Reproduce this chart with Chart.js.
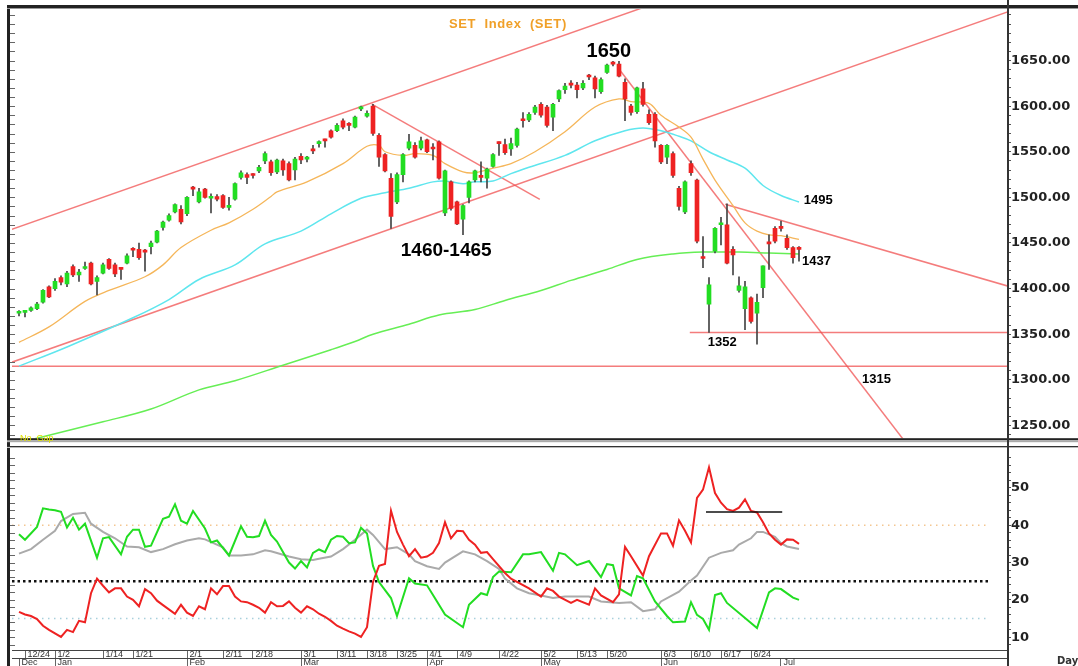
<!DOCTYPE html>
<html>
<head>
<meta charset="utf-8">
<title>SET Index (SET)</title>
<script src="https://cdn.jsdelivr.net/npm/chart.js@4.4.1/dist/chart.umd.min.js"></script>
<style>
  html, body { margin: 0; padding: 0; background: #fff; }
  #wrap { position: relative; width: 1078px; height: 666px; overflow: hidden; background: #fff; }
  #priceChart { position: absolute; left: 0; top: 0; }
  #dmiChart { position: absolute; left: 0; top: 446px; }
  .lbl { position: absolute; white-space: pre; line-height: 1; }
  #title { left: 449px; top: 16px; color: #f0a028; font: bold 13px "Liberation Sans", Arial, sans-serif; letter-spacing: 0.6px; }
  #nogap { left: 20px; top: 433px; color: #e0e000; font: 9px "Liberation Sans", Arial, sans-serif; }
  #day { left: 1057px; top: 655px; color: #333; font: bold 10px "DejaVu Sans", sans-serif; }
</style>
</head>
<body>
<div id="wrap">
  <canvas id="priceChart" width="1078" height="446"></canvas>
  <canvas id="dmiChart" width="1078" height="220"></canvas>
  <div class="lbl" id="title">SET  Index  (SET)</div>
  <div class="lbl" id="nogap">No  Gap</div>
  <div class="lbl" id="day">Day</div>
</div>
<script>
// trading days, 21 Dec 2012 .. 5 Jul 2013
const dates = ['12/21','12/24','12/25','12/26','12/27','12/28',
  '1/2','1/3','1/4','1/7','1/8','1/9','1/10','1/11','1/14','1/15','1/16','1/17','1/18','1/21','1/22','1/23','1/24','1/25','1/28','1/29','1/30','1/31',
  '2/1','2/4','2/5','2/6','2/7','2/8','2/11','2/12','2/13','2/14','2/15','2/18','2/19','2/20','2/21','2/22','2/26','2/27','2/28',
  '3/1','3/4','3/5','3/6','3/7','3/8','3/11','3/12','3/13','3/14','3/15','3/18','3/19','3/20','3/21','3/22','3/25','3/26','3/27','3/28','3/29',
  '4/1','4/2','4/3','4/4','4/5','4/9','4/10','4/11','4/12','4/17','4/18','4/19','4/22','4/23','4/24','4/25','4/26','4/29','4/30',
  '5/2','5/3','5/7','5/8','5/9','5/10','5/13','5/14','5/15','5/16','5/17','5/20','5/21','5/22','5/23','5/27','5/28','5/29','5/30','5/31',
  '6/3','6/4','6/5','6/6','6/7','6/10','6/11','6/12','6/13','6/14','6/17','6/18','6/19','6/20','6/21','6/24','6/25','6/26','6/27','6/28',
  '7/2','7/3','7/4','7/5'];

const dateTicks = ['12/24','1/2','1/14','1/21','2/1','2/11','2/18','3/1','3/11','3/18','3/25','4/1','4/9','4/22','5/2','5/13','5/20','6/3','6/10','6/17','6/24'];
const monthNames = ['Dec','Jan','Feb','Mar','Apr','May','Jun','Jul'];
const monthStarts = ['12/21','1/2','2/1','3/1','4/1','5/2','6/3','7/2'];

const opens = [1373,1374,1376,1378,1385,1402,1400,1412,1405,1424,1415,1422,1428,1408,1417,1432,1426,1422,1428,1443,
  1443,1441,1446,1451,1467,1475,1484,1487,1482,1510,1495,1509,1499,1501,1502,1489,1498,1522,1525,1525,
  1529,1540,1539,1528,1540,1537,1530,1545,1542,1552,1559,1563,1573,1573,1584,1580,1577,1597,1589,1600,
  1568,1547,1521,1495,1525,1554,1557,1554,1563,1554,1561,1483,1517,1495,1476,1500,1519,1523,1521,1534,
  1560,1558,1553,1557,1585,1585,1593,1602,1599,1588,1608,1618,1624,1623,1620,1633,1631,1616,1637,1647,
  1646,1626,1600,1594,1619,1591,1591,1557,1544,1548,1510,1484,1537,1519,1434,1383,1441,1470,1470,1443,
  1398,1378,1390,1373,1401,1450,1466,1467,1455,1445,1444];
const highs = [1376,1376,1380,1385,1399,1403,1411,1414,1419,1426,1421,1429,1429,1414,1428,1433,1428,1423,1438,1445,
  1450,1443,1452,1464,1474,1482,1493,1491,1501,1512,1510,1510,1504,1503,1503,1500,1516,1529,1527,1526,
  1535,1550,1541,1542,1542,1539,1544,1548,1545,1557,1562,1564,1574,1581,1586,1582,1589,1600,1595,1602,
  1570,1548,1526,1527,1548,1569,1560,1566,1564,1559,1562,1530,1518,1496,1492,1518,1530,1539,1532,1548,
  1561,1564,1565,1576,1593,1593,1601,1604,1601,1603,1618,1625,1628,1626,1628,1635,1633,1631,1646,1649,
  1649,1630,1602,1621,1626,1596,1593,1558,1558,1550,1512,1518,1540,1520,1457,1412,1467,1478,1493,1446,
  1413,1408,1391,1394,1425,1459,1468,1474,1459,1446,1446];
const lows = [1370,1369,1375,1377,1384,1390,1398,1404,1402,1413,1408,1421,1404,1393,1416,1421,1413,1410,1427,1435,
  1432,1419,1438,1450,1464,1474,1483,1471,1480,1502,1494,1499,1483,1496,1488,1486,1497,1520,1515,1521,
  1527,1537,1524,1526,1524,1518,1519,1537,1539,1548,1555,1555,1565,1572,1575,1573,1576,1595,1588,1568,
  1534,1528,1466,1493,1517,1552,1543,1552,1549,1541,1520,1480,1486,1470,1459,1494,1517,1517,1510,1533,
  1546,1547,1546,1555,1577,1583,1591,1588,1577,1573,1605,1614,1620,1609,1618,1629,1609,1614,1636,1644,
  1632,1584,1590,1592,1600,1580,1555,1537,1537,1522,1486,1482,1524,1450,1423,1352,1439,1448,1427,1415,
  1396,1355,1362,1339,1390,1421,1450,1463,1443,1428,1430];
const closes = [1374,1375,1379,1383,1398,1391,1408,1407,1417,1415,1418,1423,1405,1412,1426,1422,1416,1421,1436,1442,
  1434,1440,1450,1463,1473,1480,1492,1473,1500,1509,1506,1500,1500,1498,1489,1490,1515,1527,1522,1524,
  1533,1548,1527,1541,1530,1519,1542,1541,1543,1551,1560,1562,1566,1579,1577,1579,1588,1598,1592,1570,
  1544,1529,1479,1525,1547,1561,1544,1562,1550,1553,1521,1529,1488,1471,1491,1517,1529,1522,1531,1547,
  1559,1549,1559,1575,1584,1591,1599,1590,1579,1602,1617,1622,1623,1618,1625,1632,1619,1629,1645,1646,
  1633,1608,1593,1620,1602,1582,1562,1539,1557,1524,1490,1517,1527,1452,1433,1404,1466,1471,1428,1437,
  1403,1402,1364,1385,1425,1449,1452,1466,1445,1434,1443];

// moving averages: [day index, value]
const maShort = [[0,1341],[5,1358],[11,1386],[15,1398],[21,1413],[24,1426],[27,1445],[32,1464],[35,1472],[39,1487],
  [42,1501],[43,1506],[48,1517],[54,1537],[58,1556],[60,1557],[61,1550],[64,1546],[66,1548],[69,1546],[71,1537],
  [74,1528],[76,1527],[79,1532],[82,1537],[86,1550],[91,1572],[96,1599],[100,1608],[102,1605],[105,1603],[107,1590],
  [110,1577],[112,1566],[114,1542],[116,1519],[119,1491],[121,1472],[123,1463],[125,1459],[127,1458],[130,1454]];
const maMid = [[0,1315],[8,1336],[19,1368],[25,1388],[30,1410],[36,1426],[41,1449],[47,1463],[52,1482],[57,1499],
  [61,1505],[65,1510],[69,1517],[71,1518],[74,1515],[76,1517],[79,1518],[82,1526],[85,1533],[91,1546],[96,1562],
  [101,1573],[104,1576],[107,1573],[110,1567],[112,1562],[115,1550],[118,1541],[121,1532],[124,1513],[127,1502],[130,1495]];
const maLong = [[0,1231],[3,1236],[14,1254],[22,1268],[30,1289],[36,1299],[44,1316],[52,1333],[56,1342],[59,1350],
  [65,1361],[70,1371],[76,1377],[81,1387],[87,1398],[92,1409],[98,1421],[103,1432],[109,1438],[114,1440],[120,1440],
  [125,1439],[130,1438]];

// hand-drawn trend lines: [[index, value], [index, value]]
const trendLines = [
  [[-1.2,1465.0],[110,1721.9]],
  [[-1.2,1319.3],[166,1706.1]],
  [[58.8,1602.2],[86.8,1497.8]],
  [[99.8,1642.4],[150,1212.2]],
  [[117.7,1492.4],[166,1400.5]],
  [[111.8,1352],[166,1352]],
  [[-1.2,1315],[166,1315]]
];

// DMI panel: [day index, value]
const plusDI = [[0,37.6],[1,36.1],[3,39.5],[4,44.5],[5,44.2],[6,44.0],[7,43.6],[8,39.4],[9,42.0],[10,38.8],[11,40.4],
  [13,31.3],[14,36.5],[15,36.8],[17,32.2],[18,36.9],[19,38.8],[20,38.8],[21,34.2],[22,34.5],[24,41.7],[25,42.3],
  [26,45.6],[27,41.2],[28,40.4],[29,43.8],[31,39.1],[32,35.4],[33,35.9],[35,31.9],[37,39.7],[38,36.9],[39,36.8],
  [40,37.1],[41,41.2],[42,37.4],[43,35.6],[45,30.0],[46,28.4],[47,30.4],[48,28.7],[49,32.6],[50,33.5],[51,32.8],
  [52,36.1],[53,37.1],[54,36.9],[55,35.2],[56,35.4],[57,39.3],[58,37.8],[59,29.1],[60,24.8],[62,20.5],[63,15.7],
  [65,25.8],[66,24.4],[68,23.9],[69,21.3],[71,16.1],[74,12.7],[75,18.7],[77,21.8],[78,21.3],[79,26.1],[80,27.6],
  [82,27.4],[84,32.2],[85,32.2],[87,32.8],[89,27.8],[90,32.6],[91,32.2],[93,29.3],[95,30.4],[97,26.1],[98,29.6],
  [99,29.3],[100,23.1],[102,21.2],[103,26.4],[104,25.8],[106,19.6],[108,15.7],[109,14.0],[111,14.2],[112,19.4],
  [113,16.0],[114,14.9],[115,12.0],[116,21.3],[117,21.8],[118,19.2],[123,12.5],[125,22.0],[126,23.1],[127,22.9],
  [129,20.6],[130,20.0]];
const minusDI = [[0,16.8],[1,16.1],[2,15.7],[3,14.9],[4,13.1],[5,12.0],[7,10.1],[8,12.0],[9,11.4],[10,14.4],[11,14.0],
  [12,21.8],[13,25.7],[14,23.8],[15,22.0],[16,23.1],[17,23.1],[18,20.9],[19,20.0],[20,18.3],[21,22.9],[22,21.8],
  [23,19.8],[24,18.6],[26,16.3],[27,18.7],[28,16.6],[29,15.7],[30,18.3],[31,17.5],[32,23.1],[33,21.5],[34,23.7],
  [35,23.7],[36,20.9],[37,19.6],[38,19.4],[39,18.7],[40,17.9],[41,16.6],[42,19.4],[43,18.3],[44,18.4],[45,19.6],
  [46,17.9],[47,16.6],[48,18.3],[49,17.5],[50,16.3],[51,15.5],[52,14.4],[53,13.1],[54,12.3],[55,11.6],[56,11.0],
  [57,10.1],[58,12.7],[59,24.8],[60,29.1],[61,29.6],[62,43.9],[63,38.2],[64,34.8],[65,31.7],[66,33.6],[67,31.3],
  [68,31.6],[69,32.6],[70,35.2],[71,40.8],[72,36.5],[73,38.5],[74,38.4],[75,36.1],[76,34.8],[77,32.6],[78,32.8],
  [79,30.9],[81,27.2],[82,25.7],[85,23.1],[87,20.9],[88,23.1],[89,22.4],[90,20.9],[92,19.2],[93,20.0],[95,18.7],
  [96,23.1],[97,21.2],[99,19.4],[100,21.5],[101,34.2],[102,31.7],[104,26.5],[105,31.7],[107,37.8],[108,37.8],
  [109,34.5],[110,41.3],[111,38.5],[112,35.4],[113,47.3],[114,49.5],[115,55.5],[116,48.6],[117,46.0],[118,44.3],
  [119,43.8],[120,44.7],[121,46.9],[122,43.8],[123,43.4],[124,40.8],[125,37.8],[126,36.1],[127,34.8],[128,36.2],
  [129,36.1],[130,35.0]];
const adx = [[0,32.4],[2,33.6],[4,36.1],[6,38.5],[7,41.1],[9,43.0],[11,43.3],[12,40.4],[14,38.2],[16,36.5],[18,34.3],
  [20,34.1],[22,32.8],[24,33.6],[26,34.9],[28,35.9],[30,36.5],[31,36.2],[34,34.1],[35,31.9],[37,31.9],[39,32.2],
  [41,33.3],[42,33.0],[45,31.6],[47,30.9],[49,30.7],[50,31.0],[52,31.6],[54,33.6],[56,36.1],[58,38.8],[59,37.4],
  [61,33.6],[63,34.1],[65,32.2],[66,30.4],[68,29.0],[70,28.3],[71,30.0],[74,33.0],[76,32.2],[78,30.4],[80,28.3],
  [81,25.7],[83,23.1],[85,21.8],[87,21.2],[89,20.5],[91,20.9],[95,20.9],[97,19.6],[100,19.2],[102,19.4],[104,17.0],
  [106,17.5],[107,19.6],[110,22.2],[112,25.2],[113,26.5],[115,31.3],[117,32.6],[119,33.3],[120,34.8],[122,36.5],
  [123,38.2],[124,38.2],[126,36.9],[127,35.2],[128,34.3],[130,33.6]];
const dmiMarker = [[114.5,43.5],[127.2,43.5]];
const dmiLevels = [40, 25, 15];

// labels written on the price chart: [text, day index, value, size, align]
const notes = [
  ['1650', 98.3, 1660, 20, 'center'],
  ['1460-1465', 71.2, 1441, 19, 'center'],
  ['1495', 130.8, 1497, 13, 'left'],
  ['1437', 130.5, 1430, 13, 'left'],
  ['1352', 114.8, 1341, 13, 'left'],
  ['1315', 140.5, 1300, 13, 'left']
];

const UP = '#22dd22';
const DOWN = '#ee2222';
const X_MIN = -7 / 6;
const X_MAX = X_MIN + 996 / 6;
const AXIS_FONT = { family: 'DejaVu Sans', size: 13, weight: 'bold' };

const pts = arr => arr.map(([i, v]) => ({ x: i, y: v }));

function lineSet(data, color, width, order, extra) {
  return Object.assign({
    type: 'line', data: data, borderColor: color, borderWidth: width,
    pointRadius: 0, fill: false, order: order, tension: 0
  }, extra || {});
}

// frame + inner tick marks on the left edge
function framePlugin(isTop) {
  return {
    id: 'frame',
    afterDraw(chart) {
      const { ctx, chartArea: a, scales: { y } } = chart;
      ctx.save();
      ctx.fillStyle = '#222';
      ctx.fillRect(7, isTop ? 5 : 0, 3, chart.height);
      if (isTop) {
        ctx.fillRect(7, 5, 1071, 3);
        ctx.fillStyle = '#999';
        ctx.fillRect(7, 8, 1071, 1);
        ctx.fillStyle = '#222';
        ctx.fillRect(7, a.bottom, 1071, 2);
        ctx.fillStyle = '#aaa';
        ctx.fillRect(7, a.bottom + 2, 1071, 2);
      } else {
        ctx.fillStyle = '#333';
        ctx.fillRect(7, 0, 1071, 1);
        ctx.fillStyle = '#bbb';
        ctx.fillRect(7, 1, 1071, 1);
      }
      ctx.fillStyle = '#333';
      ctx.fillRect(a.right - 1, 0, 2, chart.height);
      ctx.strokeStyle = '#666';
      ctx.lineWidth = 1;
      ctx.beginPath();
      y.ticks.forEach(t => {
        const py = Math.round(y.getPixelForValue(t.value)) + 0.5;
        ctx.moveTo(a.left - 2, py);
        ctx.lineTo(a.left + 3, py);
      });
      ctx.stroke();
      ctx.restore();
    }
  };
}

const notesPlugin = {
  id: 'notes',
  afterDatasetsDraw(chart) {
    const { ctx, scales: { x, y } } = chart;
    ctx.save();
    ctx.fillStyle = '#000';
    ctx.textBaseline = 'middle';
    notes.forEach(([t, i, v, size, align]) => {
      ctx.font = 'bold ' + size + 'px "Liberation Sans", Arial, sans-serif';
      ctx.textAlign = align;
      ctx.fillText(t, x.getPixelForValue(i), y.getPixelForValue(v));
    });
    ctx.restore();
  }
};

// ---------- price panel ----------
const bodies = dates.map((d, i) => ({ x: i, y: [opens[i], closes[i]] }));
const wicks = dates.map((d, i) => ({ x: i, y: [lows[i], highs[i]] }));
const bodyColors = dates.map((d, i) => (closes[i] >= opens[i] ? UP : DOWN));

const priceSets = [
  { type: 'bar', data: bodies, backgroundColor: bodyColors, borderWidth: 0,
    barThickness: 4, minBarLength: 2, grouped: false, order: 1 },
  { type: 'bar', data: wicks, backgroundColor: '#444', borderWidth: 0,
    barThickness: 1, grouped: false, order: 2 },
  lineSet(pts(maShort), '#f5b65a', 1.3, 3, { tension: 0.35 }),
  lineSet(pts(maMid), '#5fe6ee', 1.5, 3, { tension: 0.35 }),
  lineSet(pts(maLong), '#66ee55', 1.5, 3, { tension: 0.35 })
];
trendLines.forEach(seg => priceSets.push(lineSet(pts(seg), 'rgba(240,80,80,0.75)', 1.5, 4)));

new Chart(document.getElementById('priceChart'), {
  type: 'bar',
  data: { datasets: priceSets },
  options: {
    responsive: false,
    animation: false,
    events: [],
    layout: { padding: { left: 12, top: 9, bottom: 4, right: 0 } },
    plugins: { legend: { display: false }, tooltip: { enabled: false } },
    scales: {
      x: { type: 'linear', min: X_MIN, max: X_MAX, display: false, offset: false },
      y: {
        position: 'right', min: 1236, max: 1706.5,
        afterFit: s => { s.width = 70; },
        ticks: {
          stepSize: 10, includeBounds: false, autoSkip: false, padding: 0,
          color: '#222', font: AXIS_FONT,
          callback: v => (v % 50 === 0 && v < 1700 ? v.toFixed(2) : '')
        },
        grid: { drawOnChartArea: false, tickLength: 3, color: '#555' },
        border: { display: true, color: '#333', width: 1 }
      }
    }
  },
  plugins: [framePlugin(true), notesPlugin]
});

// ---------- DMI panel ----------
const dmiSets = [
  lineSet(pts(minusDI), '#ee2222', 2, 1),
  lineSet(pts(plusDI), '#22dd22', 2, 2),
  lineSet(pts(adx), '#aaaaaa', 2, 3),
  lineSet(pts(dmiMarker), '#111', 1.5, 0),
  lineSet(pts([[X_MIN, dmiLevels[0]], [161.8, dmiLevels[0]]]), '#f4c690', 1.5, 5, { borderDash: [1.5, 4.5] }),
  lineSet(pts([[X_MIN, dmiLevels[1]], [161.8, dmiLevels[1]]]), '#111', 2.5, 5, { borderDash: [2.5, 3] }),
  lineSet(pts([[X_MIN, dmiLevels[2]], [161.8, dmiLevels[2]]]), '#a8d0dc', 1.5, 5, { borderDash: [1.5, 4.5] })
];

const axisRow = (labels, at) => ({
  type: 'linear', position: 'bottom', min: X_MIN, max: X_MAX, offset: false,
  afterFit: s => { s.height = 8; },
  afterBuildTicks: s => { s.ticks = at.map(d => ({ value: dates.indexOf(d) })); },
  ticks: {
    autoSkip: false, maxRotation: 0, minRotation: 0, align: 'start', padding: -9,
    color: '#333', font: { family: 'Liberation Sans', size: 9 },
    callback: (v, k) => ' ' + labels[k]
  },
  grid: { drawOnChartArea: false, tickLength: 8, color: '#666' },
  border: { display: true, color: '#444', width: 1 }
});

new Chart(document.getElementById('dmiChart'), {
  type: 'line',
  data: { datasets: dmiSets },
  options: {
    responsive: false,
    animation: false,
    events: [],
    layout: { padding: { left: 12, top: 2, bottom: 0, right: 0 } },
    plugins: { legend: { display: false }, tooltip: { enabled: false } },
    scales: {
      x: axisRow(dateTicks, dateTicks),
      xm: axisRow(monthNames, monthStarts),
      y: {
        position: 'right', min: 6.6, max: 59.1,
        afterFit: s => { s.width = 70; },
        ticks: {
          stepSize: 2, includeBounds: false, autoSkip: false, padding: 0,
          color: '#222', font: AXIS_FONT,
          callback: v => (v % 10 === 0 ? v : '')
        },
        grid: { drawOnChartArea: false, tickLength: 3, color: '#555' },
        border: { display: true, color: '#333', width: 1 }
      }
    }
  },
  plugins: [framePlugin(false)]
});
</script>
</body>
</html>
